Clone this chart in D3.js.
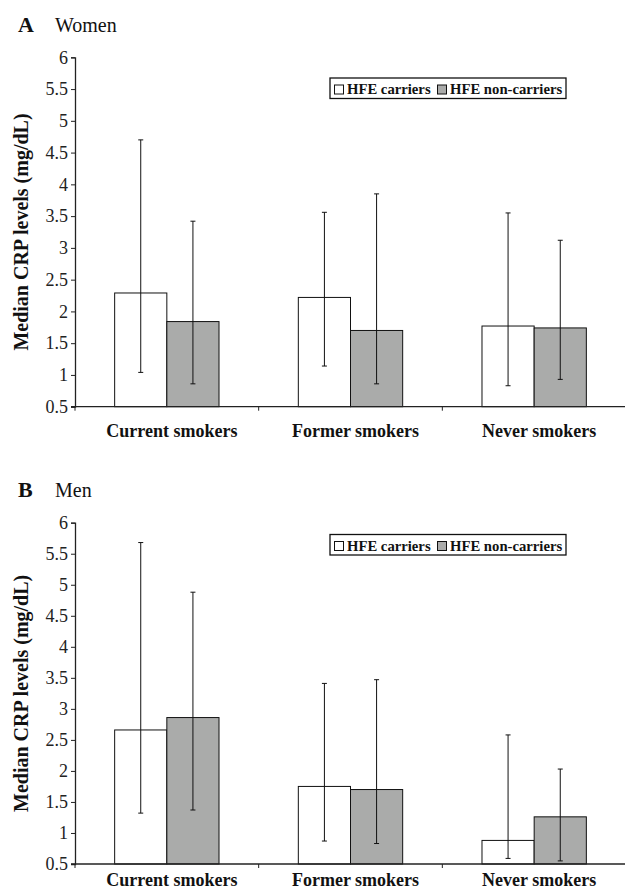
<!DOCTYPE html>
<html lang="en">
    <head>
        <meta charset="utf-8">
        <title>Median CRP levels by smoking status and HFE genotype</title>
        <script src="https://d3js.org/d3.v7.min.js" charset="utf-8"></script>
        <style>
            body { margin: 0; background: #fff; }
            svg { display: block; font-family: "Liberation Serif", "Times New Roman", serif; }
        </style>
    </head>
    <body>
        <script type="text/javascript">

            // Width and height etc
            var w = 625;
            var h = 892;

            // categories and series
            var categories = ["Current smokers", "Former smokers", "Never smokers"];
            var series = ["HFE carriers", "HFE non-carriers"];
            var seriesFill = ["#ffffff", "#aaabaa"];

            // y ticks
            var yTicks = [0.5, 1, 1.5, 2, 2.5, 3, 3.5, 4, 4.5, 5, 5.5, 6];

            // Women: medians and error bar ends (carriers, non-carriers)
            var womenCarriers = [2.29, 2.22, 1.77];
            var womenNonCarriers = [1.84, 1.70, 1.74];
            var womenCarriersHigh = [4.70, 3.56, 3.55];
            var womenCarriersLow = [1.04, 1.14, 0.83];
            var womenNonCarriersHigh = [3.42, 3.85, 3.12];
            var womenNonCarriersLow = [0.86, 0.86, 0.93];

            // Men
            var menCarriers = [2.66, 1.75, 0.88];
            var menNonCarriers = [2.86, 1.70, 1.26];
            var menCarriersHigh = [5.68, 3.41, 2.58];
            var menCarriersLow = [1.32, 0.87, 0.59];
            var menNonCarriersHigh = [4.88, 3.47, 2.03];
            var menNonCarriersLow = [1.37, 0.83, 0.55];

            // turn the arrays into rows the chart can bind to
            var makeRows = function (med1, lo1, hi1, med2, lo2, hi2) {
                var rows = [];
                categories.forEach(function (c, i) {
                    rows.push({ cat: c, s: series[0], v: med1[i], lo: lo1[i], hi: hi1[i] });
                    rows.push({ cat: c, s: series[1], v: med2[i], lo: lo2[i], hi: hi2[i] });
                });
                return rows;
            };

            var panels = [
                { letter: "A", name: "Women", top: 57.3, bottom: 406.7, legendY: 78, labelY: 30,
                  rows: makeRows(womenCarriers, womenCarriersLow, womenCarriersHigh,
                                 womenNonCarriers, womenNonCarriersLow, womenNonCarriersHigh) },
                { letter: "B", name: "Men", top: 522.7, bottom: 864, legendY: 534.5, labelY: 22,
                  rows: makeRows(menCarriers, menCarriersLow, menCarriersHigh,
                                 menNonCarriers, menNonCarriersLow, menNonCarriersHigh) }
            ];

            var left = 75;
            var right = 626;

            // Create SVG element
            var svg = d3.select("body")
                .append("svg")
                .attr("width", w)
                .attr("height", h);

            var x0 = d3.scaleBand()
                .domain(categories)
                .range([left, right]);

            var x1 = d3.scaleBand()
                .domain(series)
                .range([0, x0.bandwidth()])
                .paddingInner(0)
                .paddingOuter(0.76);

            var colour = d3.scaleOrdinal()
                .domain(series)
                .range(seriesFill);

            panels.forEach(function (p) {

                var y = d3.scaleLinear()
                    .domain([0.5, 6])
                    .range([p.bottom, p.top]);

                var g = svg.append("g");

                // panel title
                var title = g.append("text")
                    .attr("x", 18)
                    .attr("y", p.top - 25.5)
                    .attr("fill", "#111");
                title.append("tspan")
                    .attr("font-weight", "bold")
                    .attr("font-size", "22px")
                    .text(p.letter);
                title.append("tspan")
                    .attr("x", 55)
                    .attr("font-size", "20px")
                    .text(p.name);

                // y axis
                var yAxis = d3.axisLeft(y)
                    .tickValues(yTicks)
                    .tickFormat(d3.format("~g"))
                    .tickSize(4)
                    .tickPadding(3);

                var ya = g.append("g")
                    .attr("transform", "translate(" + left + ",0)")
                    .call(yAxis);
                ya.select(".domain").attr("stroke", "#222").attr("stroke-width", 1.3);
                ya.selectAll(".tick line").attr("stroke", "#222");
                ya.selectAll("text")
                    .attr("font-family", "Liberation Serif, serif")
                    .attr("font-size", "18px")
                    .attr("fill", "#222");

                // y axis title
                g.append("text")
                    .attr("transform", "translate(28," + ((p.top + p.bottom) / 2) + ") rotate(-90)")
                    .attr("text-anchor", "middle")
                    .attr("font-weight", "bold")
                    .attr("font-size", "20px")
                    .attr("fill", "#111")
                    .text("Median CRP levels (mg/dL)");

                // bars
                g.selectAll("rect.bar")
                    .data(p.rows)
                    .enter()
                    .append("rect")
                    .attr("class", "bar")
                    .attr("x", function (d) { return x0(d.cat) + x1(d.s); })
                    .attr("y", function (d) { return y(d.v); })
                    .attr("width", x1.bandwidth())
                    .attr("height", function (d) { return y(0.5) - y(d.v); })
                    .attr("fill", function (d) { return colour(d.s); })
                    .attr("stroke", "#111")
                    .attr("stroke-width", 1);

                // error bars
                var cx = function (d) { return x0(d.cat) + x1(d.s) + x1.bandwidth() / 2; };

                var err = g.selectAll("g.err")
                    .data(p.rows)
                    .enter()
                    .append("g")
                    .attr("class", "err")
                    .attr("stroke", "#111")
                    .attr("stroke-width", 1);

                err.append("line")
                    .attr("x1", cx)
                    .attr("x2", cx)
                    .attr("y1", function (d) { return y(d.hi); })
                    .attr("y2", function (d) { return y(d.lo); });
                err.append("line")
                    .attr("x1", function (d) { return cx(d) - 2.5; })
                    .attr("x2", function (d) { return cx(d) + 2.5; })
                    .attr("y1", function (d) { return y(d.hi); })
                    .attr("y2", function (d) { return y(d.hi); });
                err.append("line")
                    .attr("x1", function (d) { return cx(d) - 2.5; })
                    .attr("x2", function (d) { return cx(d) + 2.5; })
                    .attr("y1", function (d) { return y(d.lo); })
                    .attr("y2", function (d) { return y(d.lo); });

                // x axis: category ticks at band edges
                var xa = g.append("g")
                    .attr("transform", "translate(0," + p.bottom + ")");
                xa.append("line")
                    .attr("x1", left - 4)
                    .attr("x2", right)
                    .attr("stroke", "#222")
                    .attr("stroke-width", 1.3);
                xa.selectAll("line.tick")
                    .data(categories)
                    .enter()
                    .append("line")
                    .attr("class", "tick")
                    .attr("x1", function (d) { return x0(d); })
                    .attr("x2", function (d) { return x0(d); })
                    .attr("y1", 0)
                    .attr("y2", 4)
                    .attr("stroke", "#222");
                xa.selectAll("text")
                    .data(categories)
                    .enter()
                    .append("text")
                    .attr("x", function (d) { return x0(d) + x0.bandwidth() / 2 + 5; })
                    .attr("y", p.labelY)
                    .attr("text-anchor", "middle")
                    .attr("font-weight", "bold")
                    .attr("font-size", "18px")
                    .attr("fill", "#111")
                    .text(function (d) { return d; });

                // legend
                var lg = g.append("g")
                    .attr("transform", "translate(330," + p.legendY + ")");
                lg.append("rect")
                    .attr("width", 236)
                    .attr("height", 20.5)
                    .attr("fill", "#fff")
                    .attr("stroke", "#111")
                    .attr("stroke-width", 1.3);

                var item = lg.selectAll("g.item")
                    .data(series)
                    .enter()
                    .append("g")
                    .attr("class", "item")
                    .attr("transform", function (d, i) { return "translate(" + [4.5, 107.5][i] + ",0)"; });
                item.append("rect")
                    .attr("y", 7)
                    .attr("width", 9)
                    .attr("height", 9)
                    .attr("fill", function (d) { return colour(d); })
                    .attr("stroke", "#111");
                item.append("text")
                    .attr("x", 12.5)
                    .attr("y", 16)
                    .attr("font-weight", "bold")
                    .attr("font-size", "14.7px")
                    .attr("fill", "#111")
                    .text(function (d) { return d; });
            });

        </script>
    </body>
</html>
